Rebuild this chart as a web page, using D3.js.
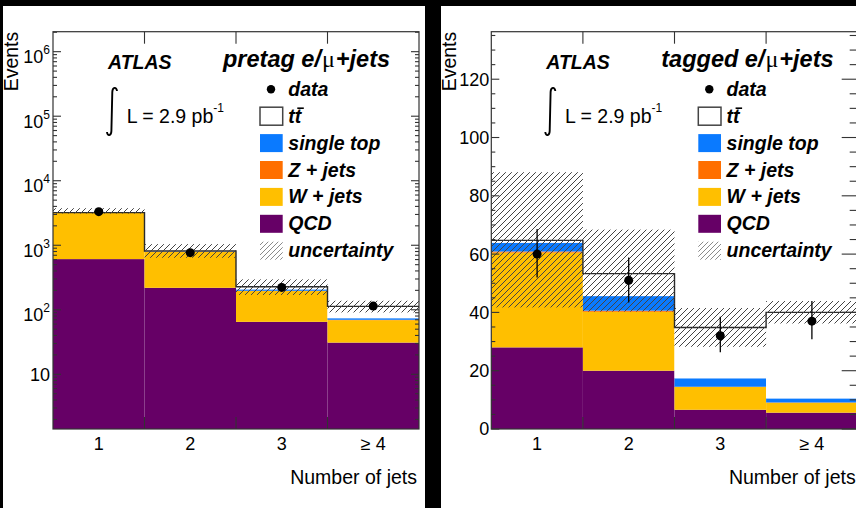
<!DOCTYPE html>
<html>
<head>
<meta charset="utf-8">
<script src="https://cdn.jsdelivr.net/npm/d3@7"></script>
<style>
  html, body { margin: 0; padding: 0; background: #000; }
  svg { display: block; }
  text { font-family: "Liberation Sans", Arial, Helvetica, sans-serif; fill: #000; }
</style>
</head>
<body>
<svg id="chart" width="856" height="508"></svg>
<script>
// ---- data -------------------------------------------------------------
const categories = ["1", "2", "3", "\u2265 4"];

// pretag e/mu+jets (events per jet multiplicity bin)
const pretagQCD       = [610, 219, 65, 31];
const pretagWjets     = [2550, 566, 130, 38];
const pretagZjets     = [12, 5, 2, 1];
const pretagSingleTop = [8, 8, 10, 4];
const pretagTTbar     = [20, 18, 20, 39];
const pretagData      = [3320, 768, 222, 114];
const pretagUncUp     = [3750, 1040, 296, 138];
const pretagUncDown   = [3100, 640, 170, 91];

// tagged e/mu+jets
const taggedQCD       = [28.0, 20.0, 6.6, 5.6];
const taggedWjets     = [32.5, 20.2, 7.8, 3.4];
const taggedZjets     = [0.4, 0.4, 0.1, 0.1];
const taggedSingleTop = [3.0, 5.0, 2.9, 1.4];
const taggedTTbar     = [0.8, 7.7, 17.4, 29.5];
const taggedData      = [60, 51, 32, 37];
const taggedDataHi    = [68.6, 58.8, 38.5, 43.9];
const taggedDataLo    = [52.0, 43.4, 26.3, 30.8];
const taggedUncUp     = [88.1, 68.4, 41.5, 43.9];
const taggedUncDown   = [41.7, 40.3, 28.2, 36.2];

const logTickExponents = [1, 2, 3, 4, 5, 6];
const linTickLabels    = [0, 20, 40, 60, 80, 100, 120];

const legendLabels = ["data", "tt", "single top", "Z + jets", "W + jets", "QCD", "uncertainty"];

// ---- styling ----------------------------------------------------------
const colQCD = "#660066", colW = "#ffbf00", colZ = "#ff6f00", colST = "#0a7aff";

const svg = d3.select("#chart");
svg.append("rect").attr("width", 856).attr("height", 508).attr("fill", "#000");

const defs = svg.append("defs");
const hatch = defs.append("pattern").attr("id", "hatch")
  .attr("patternUnits", "userSpaceOnUse").attr("width", 6).attr("height", 6);
hatch.append("path").attr("d", "M-1,1 l2,-2 M0,6 l6,-6 M5,7 l2,-2")
  .attr("stroke", "#444").attr("stroke-width", 1);
const hatchLight = defs.append("pattern").attr("id", "hatchLight")
  .attr("patternUnits", "userSpaceOnUse").attr("width", 5).attr("height", 5);
hatchLight.append("path").attr("d", "M-1,1 l2,-2 M0,5 l5,-5 M4,6 l2,-2")
  .attr("stroke", "#8a8a8a").attr("stroke-width", 1);

const panels = [
  {
    bg: { x: 3, y: 6, w: 422, h: 502 },
    frame: { l: 53, r: 419, t: 31.7, b: 429 },
    log: true, yDomain: [1.42, 2.04e6],
    comps: [pretagQCD, pretagWjets, pretagZjets, pretagSingleTop, pretagTTbar],
    data: pretagData, dataHi: null, dataLo: null,
    uncUp: pretagUncUp, uncDown: pretagUncDown,
    title: "pretag e/", rightTick: { major: 8, minor: 4 }
  },
  {
    bg: { x: 441, y: 6, w: 415, h: 502 },
    frame: { l: 491.3, r: 857.7, t: 31.7, b: 429 },
    log: false, yDomain: [0, 136.3],
    comps: [taggedQCD, taggedWjets, taggedZjets, taggedSingleTop, taggedTTbar],
    data: taggedData, dataHi: taggedDataHi, dataLo: taggedDataLo,
    uncUp: taggedUncUp, uncDown: taggedUncDown,
    title: "tagged e/", rightTick: { major: 16, minor: 8 }
  }
];
const compColors = [colQCD, colW, colZ, colST, "#ffffff"];

panels.forEach(p => drawPanel(p));

function drawPanel(p) {
  const { l, r, t, b } = p.frame;
  const g = svg.append("g");
  g.append("rect").attr("x", p.bg.x).attr("y", p.bg.y)
    .attr("width", p.bg.w).attr("height", p.bg.h).attr("fill", "#fff");

  const x = d3.scaleBand().domain(categories).range([l, r]).padding(0);
  const y = (p.log ? d3.scaleLog() : d3.scaleLinear()).domain(p.yDomain).range([b, t]);
  const yMin = p.yDomain[0];
  const yc = v => y(Math.max(v, yMin));

  // stacked backgrounds, QCD at the bottom, ttbar on top
  const rows = categories.map((c, i) => p.comps.map(s => s[i]));
  const series = d3.stack().keys(d3.range(p.comps.length)).value((d, k) => d[k])(rows);
  const plot = g.append("g");
  series.forEach((s, k) => {
    plot.selectAll(null).data(s).enter().append("rect")
      .attr("x", (d, i) => x(categories[i]))
      .attr("width", x.bandwidth())
      .attr("y", d => yc(d[1]))
      .attr("height", d => Math.max(0, yc(d[0]) - yc(d[1])))
      .attr("fill", compColors[k]);
  });

  // outline of the total expectation
  const totals = series[series.length - 1].map(d => d[1]);
  const pts = categories.map((c, i) => [x(c), y(totals[i])]);
  pts.push([r, y(totals[totals.length - 1])]);
  plot.append("path").attr("d", d3.line().curve(d3.curveStepAfter)(pts))
    .attr("fill", "none").attr("stroke", "#2a2a2a").attr("stroke-width", 1.4);

  // uncertainty band
  plot.selectAll(null).data(categories).enter().append("rect")
    .attr("x", c => x(c)).attr("width", x.bandwidth())
    .attr("y", (c, i) => y(p.uncUp[i]))
    .attr("height", (c, i) => y(p.uncDown[i]) - y(p.uncUp[i]))
    .attr("fill", "url(#hatch)");

  // frame
  g.append("rect").attr("x", l).attr("y", t).attr("width", r - l).attr("height", b - t)
    .attr("fill", "none").attr("stroke", "#333").attr("stroke-width", 1.2);

  // y ticks
  const ticks = g.append("g").attr("stroke", "#333").attr("stroke-width", 1.1);
  let majors, minors;
  if (p.log) {
    majors = [];
    minors = [];
    for (let e = 0; e <= 6; e++) {
      for (let m = 1; m <= 9; m++) {
        const v = m * Math.pow(10, e);
        if (v < p.yDomain[0] || v > p.yDomain[1]) continue;
        (m === 1 ? majors : minors).push(v);
      }
    }
  } else {
    majors = linTickLabels;
    minors = d3.range(0, p.yDomain[1], 5).filter(v => v % 20 !== 0);
  }
  const leftLen = { major: 8, minor: 4 };
  majors.forEach(v => {
    ticks.append("line").attr("x1", l).attr("x2", l + leftLen.major).attr("y1", y(v)).attr("y2", y(v));
    ticks.append("line").attr("x1", r - p.rightTick.major).attr("x2", r).attr("y1", y(v)).attr("y2", y(v));
  });
  minors.forEach(v => {
    ticks.append("line").attr("x1", l).attr("x2", l + leftLen.minor).attr("y1", y(v)).attr("y2", y(v));
    ticks.append("line").attr("x1", r - p.rightTick.minor).attr("x2", r).attr("y1", y(v)).attr("y2", y(v));
  });
  // x ticks on internal bin edges
  categories.slice(1).forEach(c => {
    const xe = x(c);
    ticks.append("line").attr("x1", xe).attr("x2", xe).attr("y1", b).attr("y2", b - 12);
    ticks.append("line").attr("x1", xe).attr("x2", xe).attr("y1", t).attr("y2", t + 12);
  });

  // y tick labels
  const tl = g.append("g").attr("font-size", 18).attr("text-anchor", "end");
  if (p.log) {
    logTickExponents.forEach(e => {
      const v = Math.pow(10, e);
      const txt = tl.append("text").attr("x", l - 3);
      if (e === 1) {
        txt.attr("y", y(v)).attr("dy", "0.36em").text("10");
      } else {
        txt.attr("y", y(v) + 11.5).text("10");
        txt.append("tspan").attr("font-size", 12).attr("dy", -9).text(e);
      }
    });
  } else {
    linTickLabels.forEach(v => {
      tl.append("text").attr("x", l - 2).attr("y", y(v)).attr("dy", "0.36em").text(v);
    });
  }
  // x tick labels
  g.append("g").attr("font-size", 18).attr("text-anchor", "middle")
    .selectAll(null).data(categories).enter().append("text")
    .attr("x", c => x(c) + x.bandwidth() / 2).attr("y", 450).text(c => c);

  // axis titles
  g.append("text").attr("x", r - 2).attr("y", 484).attr("text-anchor", "end")
    .attr("font-size", 19.5).text("Number of jets");
  g.append("text").attr("transform", `translate(${l - 35},${t}) rotate(-90)`)
    .attr("text-anchor", "end").attr("font-size", 19.5).text("Events");

  // data points
  const dots = g.append("g");
  if (p.dataHi) {
    dots.selectAll(null).data(categories).enter().append("line")
      .attr("x1", c => x(c) + x.bandwidth() / 2).attr("x2", c => x(c) + x.bandwidth() / 2)
      .attr("y1", (c, i) => y(p.dataHi[i])).attr("y2", (c, i) => y(p.dataLo[i]))
      .attr("stroke", "#000").attr("stroke-width", 1.3);
  }
  dots.selectAll(null).data(categories).enter().append("circle")
    .attr("cx", c => x(c) + x.bandwidth() / 2).attr("cy", (c, i) => y(p.data[i]))
    .attr("r", 4.5).attr("fill", "#000");

  // labels
  g.append("text").attr("x", l + 55).attr("y", 69).attr("font-size", 19.5)
    .attr("font-weight", "bold").attr("font-style", "italic").text("ATLAS");

  const title = g.append("text").attr("x", l + 170).attr("y", 66.5).attr("font-size", 23.5);
  title.append("tspan").attr("font-weight", "bold").attr("font-style", "italic").text(p.title);
  title.append("tspan").attr("font-family", "'Liberation Serif', 'DejaVu Serif', serif")
    .attr("font-size", 24).attr("dx", 1).text("\u03bc");
  title.append("tspan").attr("font-weight", "bold").attr("font-style", "italic").attr("dx", 1).text("+jets");

  // integrated luminosity
  const ix = l + 59;
  g.append("path")
    .attr("d", `M${ix + 5},${91} C${ix + 4.5},${86.5} ${ix + 0.5},${87} ${ix + 0.3},${92} L${ix - 0.6},${131} C${ix - 0.8},${136} ${ix - 4.6},${136.5} ${ix - 5},${132}`)
    .attr("fill", "none").attr("stroke", "#000").attr("stroke-width", 1.9);
  const lumi = g.append("text").attr("x", l + 73.7).attr("y", 122.5).attr("font-size", 19.5);
  lumi.append("tspan").text("L = 2.9 pb");
  lumi.append("tspan").attr("font-size", 12).attr("dy", -11).text("-1");

  // legend
  const lg = g.append("g");
  const rowY = i => 89.3 + i * 26.9;
  legendLabels.forEach((lab, i) => {
    const cy = rowY(i);
    const bx = l + 207, bw = 22.7, bh = 18;
    if (i === 0) {
      lg.append("circle").attr("cx", l + 218).attr("cy", cy).attr("r", 4.2).attr("fill", "#000");
    } else if (i === 1) {
      lg.append("rect").attr("x", bx).attr("y", cy - bh / 2).attr("width", bw).attr("height", bh)
        .attr("fill", "#fff").attr("stroke", "#444").attr("stroke-width", 1.5);
    } else if (i === 6) {
      lg.append("rect").attr("x", bx).attr("y", cy - bh / 2).attr("width", bw).attr("height", bh)
        .attr("fill", "url(#hatchLight)");
    } else {
      const col = [colST, colZ, colW, colQCD][i - 2];
      lg.append("rect").attr("x", bx).attr("y", cy - bh / 2).attr("width", bw).attr("height", bh)
        .attr("fill", col);
    }
    const tx = lg.append("text").attr("x", l + 235.3).attr("y", cy + 6.5)
      .attr("font-size", 19.5).attr("font-weight", "bold").attr("font-style", "italic").text(lab);
    if (i === 1) {
      // bar over the second t
      const node = tx.node();
      const s = node.getStartPositionOfChar(1), e = node.getEndPositionOfChar(1);
      lg.append("line").attr("x1", s.x + 2.5).attr("x2", e.x + 2.5)
        .attr("y1", cy - 8).attr("y2", cy - 8).attr("stroke", "#000").attr("stroke-width", 1.6);
    }
  });
}
</script>
</body>
</html>
